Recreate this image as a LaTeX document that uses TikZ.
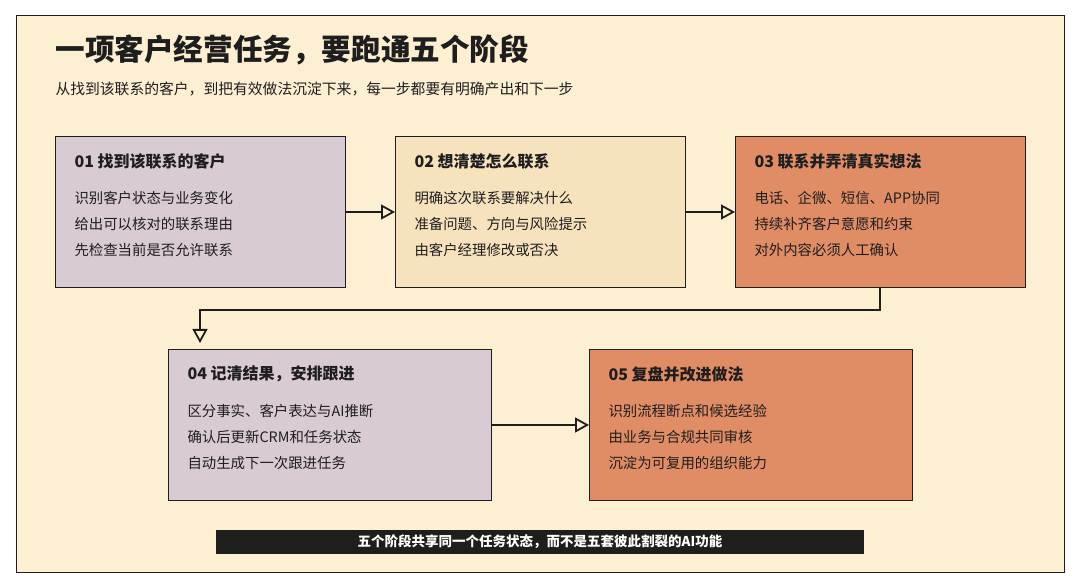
\documentclass[tikz,border=0pt]{standalone}
\usepackage{fontspec}
\setmainfont{Noto Sans CJK SC}
\usetikzlibrary{arrows.meta,positioning}
\definecolor{bgc}{HTML}{FDF0D2}
\definecolor{purp}{HTML}{D9CBD3}
\definecolor{sand}{HTML}{F6E2BD}
\definecolor{oran}{HTML}{E08D66}
\definecolor{ink}{HTML}{1E1E1E}
\tikzset{
  stage/.style={draw=ink,line width=1pt,minimum width=#1,minimum height=151pt,anchor=north west,inner sep=0pt},
  flow/.style={draw=ink,line width=2.4pt,-{Triangle[open,length=14pt,width=15pt,line width=1.8pt]}},
  head/.style={anchor=west,font=\fontsize{16}{18}\selectfont\bfseries,text=ink},
  item/.style={anchor=west,font=\fontsize{14.4}{16}\selectfont,text=ink}
}
\begin{document}
\begin{tikzpicture}[x=1pt,y=-1pt]
\useasboundingbox (0,0) rectangle (1080,588);
\fill[white] (0,0) rectangle (1080,588);
\draw[fill=bgc,draw=ink,line width=1pt] (16,16) rectangle (1064,572);
\node[anchor=west,font=\fontsize{29.6}{33}\selectfont\bfseries,text=ink] (title) at (52,50) {一项客户经营任务，要跑通五个阶段};
\node[anchor=west,font=\fontsize{14.8}{17}\selectfont,text=ink] (sub) at (52,89) {从找到该联系的客户，到把有效做法沉淀下来，每一步都要有明确产出和下一步};
% stages
\node[stage=290pt,fill=purp] (s1) at (55,136) {};
\node[stage=290pt,fill=sand] (s2) at (395,136) {};
\node[stage=290pt,fill=oran] (s3) at (735,136) {};
\node[stage=323pt,fill=purp] (s4) at (168,349) {};
\node[stage=323pt,fill=oran] (s5) at (589,349) {};
\foreach \s/\h/\a/\b/\c in {
  s1/01 找到该联系的客户/识别客户状态与业务变化/给出可以核对的联系理由/先检查当前是否允许联系,
  s2/02 想清楚怎么联系/明确这次联系要解决什么/准备问题、方向与风险提示/由客户经理修改或否决,
  s3/03 联系并弄清真实想法/电话、企微、短信、APP协同/持续补齐客户意愿和约束/对外内容必须人工确认,
  s4/04 记清结果，安排跟进/区分事实、客户表达与AI推断/确认后更新CRM和任务状态/自动生成下一次跟进任务,
  s5/05 复盘并改进做法/识别流程断点和候选经验/由业务与合规共同审核/沉淀为可复用的组织能力}{
  \node[head] (\s h) at ([xshift=16pt,yshift=-25pt]\s.north west) {\h};
  \node[item] (\s a) at ([xshift=16pt,yshift=-62pt]\s.north west) {\a};
  \node[item] at ([xshift=16pt,yshift=-88pt]\s.north west) {\b};
  \node[item] at ([xshift=16pt,yshift=-114pt]\s.north west) {\c};
}
% connectors
\draw[flow] (s1.east) -- (s2.west);
\draw[flow] (s2.east) -- (s3.west);
\coordinate (drop) at (200,343);
\draw[flow] (s3.south west) ++(145pt,0) |- (200,310) -- (drop);
\draw[flow] (s4.east) -- (s5.west);
% footer
\node[fill=ink,minimum width=648pt,minimum height=24pt,text=white,font=\fontsize{13.5}{15}\selectfont\bfseries] (bar) at (540,542) {五个阶段共享同一个任务状态，而不是五套彼此割裂的AI功能};
\end{tikzpicture}
\end{document}
